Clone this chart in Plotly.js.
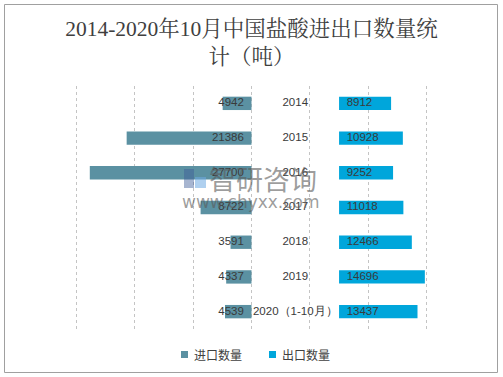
<!DOCTYPE html>
<html><head><meta charset="utf-8">
<script src="https://cdn.plot.ly/plotly-3.0.1.min.js"></script>
<style>html,body{margin:0;padding:0;background:#fff;}#chart{width:503px;height:377px;}</style>
</head><body><div id="chart"></div>
<script>
// ---- data ----
const years = ['2014','2015','2016','2017','2018','2019','2020（1-10月）'];
const importQty = [4942, 21386, 27700, 8722, 3591, 4337, 4539];
const exportQty = [8912, 10928, 9252, 11018, 12466, 14696, 13437];
const seriesNames = ['进口数量','出口数量'];
const titleText = '2014-2020年10月中国盐酸进出口数量统<br>计（吨）';

// ---- layout helpers ----
const W = 503, H = 377, mL = 18, mR = 18, mT = 86, mB = 48;
const pw = W - mL - mR, ph = H - mT - mB;
const px = x => (x - mL) / pw;
const py = y => (H - mB - y) / ph;
const spacer = 15000;
const cImp = '#5B91A2', cExp = '#00A6DB';
const labelFont = {family: 'Liberation Sans, Arial, sans-serif', size: 11.5, color: '#3a3a3a'};

const traces = [
  {type: 'bar', orientation: 'h', y: years, x: importQty.map(v => -v), base: 0,
   marker: {color: cImp}, name: seriesNames[0], hoverinfo: 'skip', width: 0.385},
  {type: 'bar', orientation: 'h', y: years, x: exportQty, base: spacer,
   marker: {color: cExp}, name: seriesNames[1], hoverinfo: 'skip', width: 0.385},
  {type: 'scatter', mode: 'text', y: years, x: years.map(() => -1300),
   text: importQty.map(String), textposition: 'middle left', textfont: labelFont, hoverinfo: 'skip'},
  {type: 'scatter', mode: 'text', y: years, x: years.map(() => spacer + 1300),
   text: exportQty.map(String), textposition: 'middle right', textfont: labelFont, hoverinfo: 'skip'},
  {type: 'scatter', mode: 'text', y: years, x: years.map(() => spacer / 2),
   text: years, textposition: 'middle center', textfont: labelFont, hoverinfo: 'skip'}
];

const legendFont = {family: 'Noto Sans CJK SC, sans-serif', size: 12, color: '#404040'};
const layout = {
  width: W, height: H,
  margin: {l: mL, r: mR, t: mT, b: mB, pad: 0},
  paper_bgcolor: '#fff', plot_bgcolor: '#fff',
  showlegend: false, barmode: 'overlay',
  title: {text: titleText, x: 0.5, xanchor: 'center', xref: 'paper',
          y: 1 - 36 / H, yanchor: 'top', yref: 'container',
          font: {family: 'Liberation Serif, Noto Serif CJK SC, Noto Sans CJK SC, serif', size: 21.5, color: '#3f3f3f'}},
  xaxis: {range: [-40000, 40000], dtick: 10000, tick0: 0, showgrid: true, gridcolor: '#C4C4C4',
          griddash: 'dot', gridwidth: 1, zeroline: false, showticklabels: false, ticks: '',
          showline: false, fixedrange: true},
  yaxis: {type: 'category', autorange: 'reversed', showgrid: false, zeroline: false,
          showticklabels: false, ticks: '', showline: false, fixedrange: true},
  shapes: [
    {type: 'rect', xref: 'paper', yref: 'paper', x0: px(4.5), x1: px(497.5), y0: py(4.5), y1: py(372.5),
     line: {color: '#A0A0A0', width: 1}, fillcolor: 'rgba(0,0,0,0)', layer: 'below'},
    {type: 'rect', xref: 'paper', yref: 'paper', x0: px(181), x1: px(188), y0: py(351), y1: py(358),
     line: {width: 0}, fillcolor: cImp},
    {type: 'rect', xref: 'paper', yref: 'paper', x0: px(269), x1: px(276), y0: py(351), y1: py(358),
     line: {width: 0}, fillcolor: cExp},
    // watermark logo
    {type: 'rect', xref: 'paper', yref: 'paper', x0: px(184), x1: px(194), y0: py(188), y1: py(169),
     line: {width: 0}, fillcolor: 'rgba(60,90,150,0.45)', layer: 'above'},
    {type: 'rect', xref: 'paper', yref: 'paper', x0: px(195), x1: px(206), y0: py(188), y1: py(177),
     line: {width: 0}, fillcolor: 'rgba(110,170,225,0.55)', layer: 'above'}
  ],
  annotations: [
    {xref: 'paper', yref: 'paper', x: px(192), y: py(354.5), xanchor: 'left', yanchor: 'middle',
     text: seriesNames[0], showarrow: false, font: legendFont},
    {xref: 'paper', yref: 'paper', x: px(280), y: py(354.5), xanchor: 'left', yanchor: 'middle',
     text: seriesNames[1], showarrow: false, font: legendFont},
    {xref: 'paper', yref: 'paper', x: px(263), y: py(178), xanchor: 'center', yanchor: 'middle',
     text: '智研咨询', showarrow: false,
     font: {family: 'Noto Sans CJK SC, sans-serif', size: 27, color: 'rgba(90,90,90,0.6)'}},
    {xref: 'paper', yref: 'paper', x: px(251), y: py(202), xanchor: 'center', yanchor: 'middle',
     text: 'www.chyxx.com', showarrow: false,
     font: {family: 'DejaVu Sans, sans-serif', size: 17, color: 'rgba(90,90,90,0.6)'}}
  ]
};
Plotly.newPlot('chart', traces, layout, {displayModeBar: false, staticPlot: true});
</script></body></html>
